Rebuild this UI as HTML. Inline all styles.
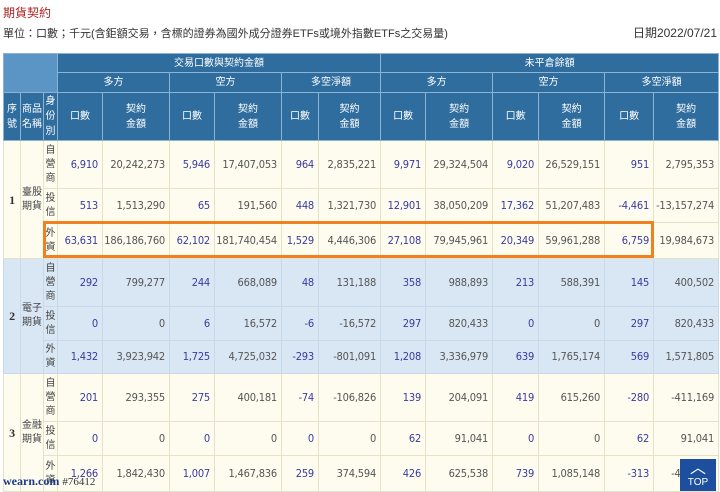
<!DOCTYPE html>
<html><head><meta charset="utf-8"><style>
body{margin:0;width:720px;height:491px;overflow:hidden;background:#fff;font-family:"Liberation Sans","Noto Sans CJK TC",sans-serif;position:relative}
.t1{position:absolute;left:3px;top:4px;font-size:12px;color:#b02020}
.t2{position:absolute;left:3px;top:25px;font-size:11px;color:#333}
.t3{position:absolute;right:3px;top:24px;font-size:12px;color:#333}
table{position:absolute;left:3px;top:53px;width:715px;border-collapse:collapse;table-layout:fixed}
td{border:1px solid #e6e2c8;padding:0;font-size:11px;text-align:right;padding-right:4px;color:#555;font-family:"DejaVu Sans Condensed","DejaVu Sans",sans-serif;letter-spacing:-0.2px;white-space:nowrap;overflow:hidden;line-height:14px}
th{background:#2f6d9e;color:#fff;font-weight:normal;font-size:10px;border:1px solid #8cb3d3;font-family:"Liberation Sans","Noto Sans CJK TC",sans-serif;line-height:15px;padding:0;overflow:hidden}
th.lt{background:#5b95c6}
td.n{color:#3a3aa0}
td.c{text-align:center;padding:0;color:#444;font-family:"Liberation Sans","Noto Sans CJK TC",sans-serif;font-size:10px;line-height:14px;letter-spacing:0;white-space:normal}
td.s{text-align:center;padding:0;font-weight:bold;color:#333;font-family:"Liberation Serif",serif;font-size:12px}
.y td{background:#fdfcef}
.b td{background:#d9e6f3;border-color:#c8d9ea}
.box{position:absolute;left:43px;top:221px;width:611px;height:37px;border:3px solid #f08020;box-sizing:border-box}
.wm{position:absolute;left:3px;top:474px;font:bold 12px "Liberation Serif",serif;color:#1a3a8a}
.wm span{font-weight:normal;font-size:11px;color:#333}
.top{position:absolute;left:680px;top:459px;width:36px;height:32px;background:#1e4f9e;color:#fff;font-size:10px;text-align:center}
</style></head><body>
<div class="t1">期貨契約</div>
<div class="t2">單位：口數；千元(含鉅額交易，含標的證券為國外成分證券ETFs或境外指數ETFs之交易量)</div>
<div class="t3">日期2022/07/21</div>
<table>
<colgroup><col style="width:17px"><col style="width:23px"><col style="width:14px"><col style="width:45px"><col style="width:67px"><col style="width:45px"><col style="width:67px"><col style="width:37px"><col style="width:62px"><col style="width:45px"><col style="width:67px"><col style="width:46px"><col style="width:66px"><col style="width:49px"><col style="width:65px"></colgroup>
<tr style="height:19px"><th class="lt" colspan="3" rowspan="2"></th><th colspan="6">交易口數與契約金額</th><th colspan="6">未平倉餘額</th></tr>
<tr style="height:20px"><th colspan="2">多方</th><th colspan="2">空方</th><th colspan="2">多空淨額</th><th colspan="2">多方</th><th colspan="2">空方</th><th colspan="2">多空淨額</th></tr>
<tr style="height:48px"><th>序<br>號</th><th>商品<br>名稱</th><th>身<br>份<br>別</th><th>口數</th><th>契約<br>金額</th><th>口數</th><th>契約<br>金額</th><th>口數</th><th>契約<br>金額</th><th>口數</th><th>契約<br>金額</th><th>口數</th><th>契約<br>金額</th><th>口數</th><th>契約<br>金額</th></tr>
<tr class="y" style="height:48px"><td class="s" rowspan="3">1</td><td class="c" rowspan="3">臺股<br>期貨</td><td class="c">自<br>營<br>商</td><td class="n">6,910</td><td>20,242,273</td><td class="n">5,946</td><td>17,407,053</td><td class="n">964</td><td>2,835,221</td><td class="n">9,971</td><td>29,324,504</td><td class="n">9,020</td><td>26,529,151</td><td class="n">951</td><td>2,795,353</td></tr>
<tr class="y" style="height:34px"><td class="c">投<br>信</td><td class="n">513</td><td>1,513,290</td><td class="n">65</td><td>191,560</td><td class="n">448</td><td>1,321,730</td><td class="n">12,901</td><td>38,050,209</td><td class="n">17,362</td><td>51,207,483</td><td class="n">-4,461</td><td>-13,157,274</td></tr>
<tr class="y" style="height:36px"><td class="c">外<br>資</td><td class="n">63,631</td><td>186,186,760</td><td class="n">62,102</td><td>181,740,454</td><td class="n">1,529</td><td>4,446,306</td><td class="n">27,108</td><td>79,945,961</td><td class="n">20,349</td><td>59,961,288</td><td class="n">6,759</td><td>19,984,673</td></tr>
<tr class="b" style="height:48px"><td class="s" rowspan="3">2</td><td class="c" rowspan="3">電子<br>期貨</td><td class="c">自<br>營<br>商</td><td class="n">292</td><td>799,277</td><td class="n">244</td><td>668,089</td><td class="n">48</td><td>131,188</td><td class="n">358</td><td>988,893</td><td class="n">213</td><td>588,391</td><td class="n">145</td><td>400,502</td></tr>
<tr class="b" style="height:34px"><td class="c">投<br>信</td><td class="n">0</td><td>0</td><td class="n">6</td><td>16,572</td><td class="n">-6</td><td>-16,572</td><td class="n">297</td><td>820,433</td><td class="n">0</td><td>0</td><td class="n">297</td><td>820,433</td></tr>
<tr class="b" style="height:33px"><td class="c">外<br>資</td><td class="n">1,432</td><td>3,923,942</td><td class="n">1,725</td><td>4,725,032</td><td class="n">-293</td><td>-801,091</td><td class="n">1,208</td><td>3,336,979</td><td class="n">639</td><td>1,765,174</td><td class="n">569</td><td>1,571,805</td></tr>
<tr class="y" style="height:48px"><td class="s" rowspan="3">3</td><td class="c" rowspan="3">金融<br>期貨</td><td class="c">自<br>營<br>商</td><td class="n">201</td><td>293,355</td><td class="n">275</td><td>400,181</td><td class="n">-74</td><td>-106,826</td><td class="n">139</td><td>204,091</td><td class="n">419</td><td>615,260</td><td class="n">-280</td><td>-411,169</td></tr>
<tr class="y" style="height:34px"><td class="c">投<br>信</td><td class="n">0</td><td>0</td><td class="n">0</td><td>0</td><td class="n">0</td><td>0</td><td class="n">62</td><td>91,041</td><td class="n">0</td><td>0</td><td class="n">62</td><td>91,041</td></tr>
<tr class="y" style="height:36px"><td class="c">外<br>資</td><td class="n">1,266</td><td>1,842,430</td><td class="n">1,007</td><td>1,467,836</td><td class="n">259</td><td>374,594</td><td class="n">426</td><td>625,538</td><td class="n">739</td><td>1,085,148</td><td class="n">-313</td><td>-457,290</td></tr>
</table>
<div class="box"></div>
<div class="wm">wearn.com <span>#76412</span></div>
<div class="top"><div style="font-size:16px;line-height:16px;margin-top:2px">︿</div>TOP</div>
</body></html>
